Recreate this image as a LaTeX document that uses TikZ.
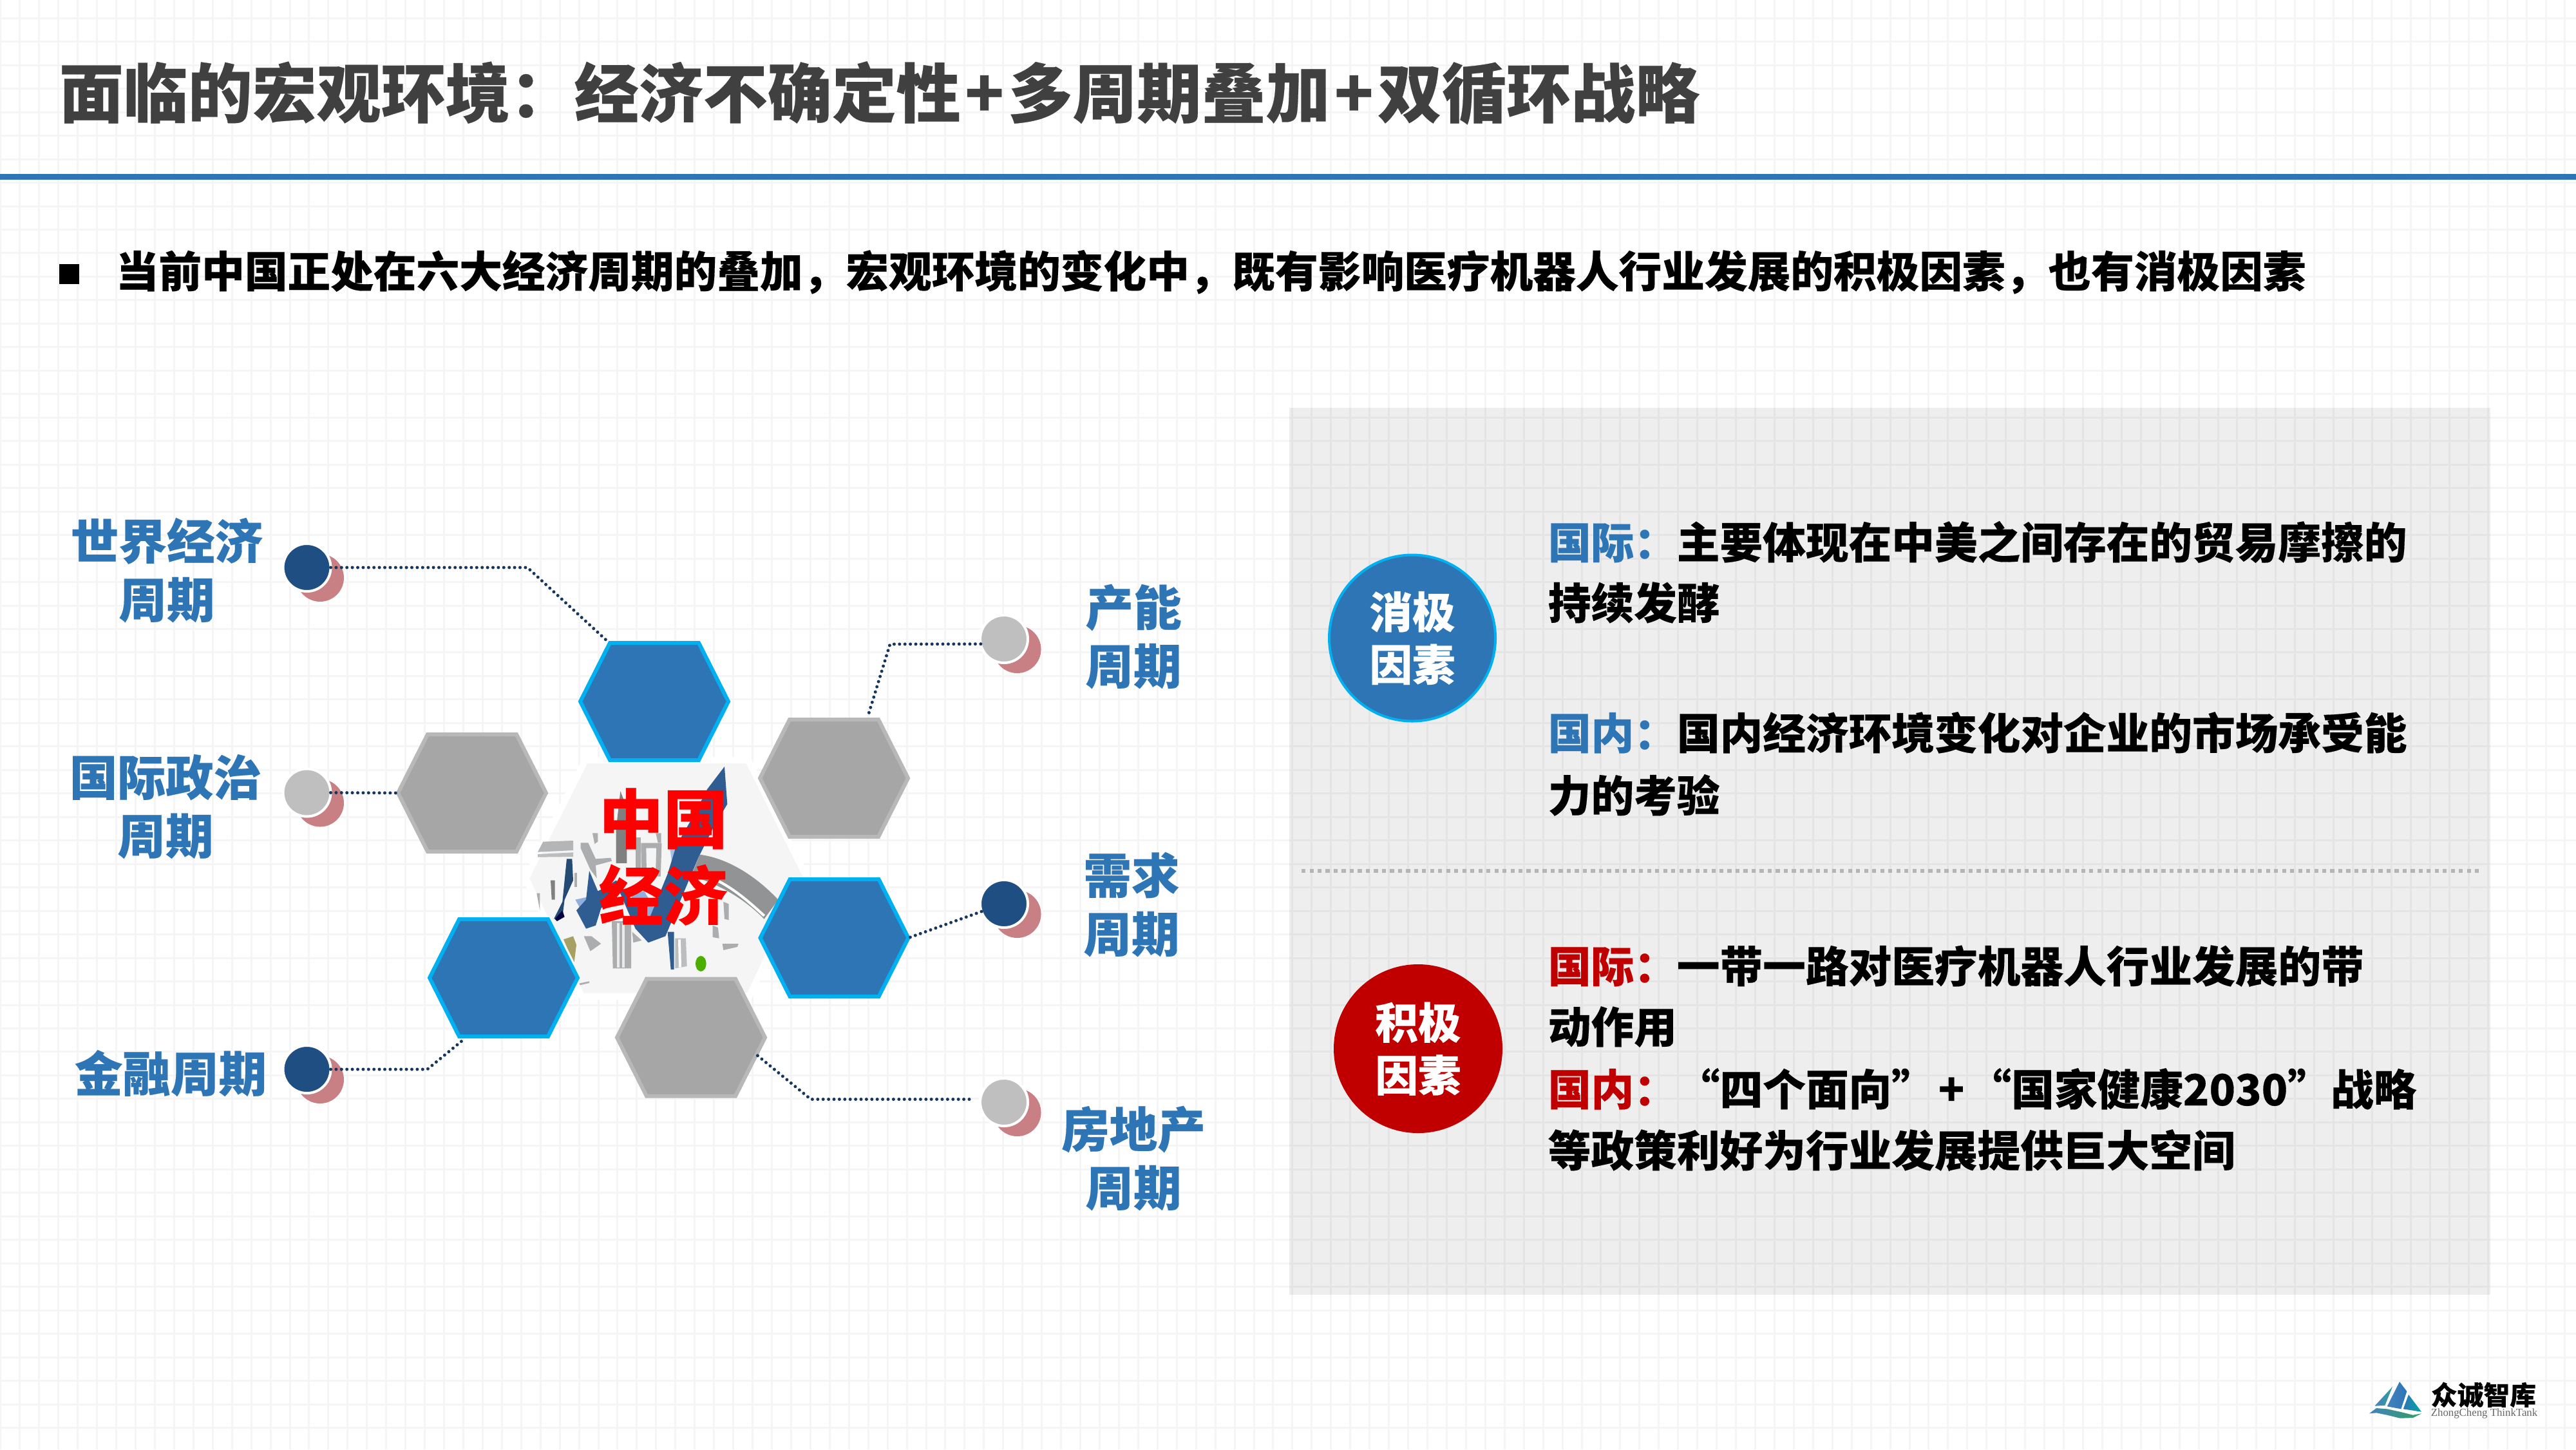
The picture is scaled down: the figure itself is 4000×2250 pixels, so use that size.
\documentclass[tikz,border=0pt]{standalone}
\usepackage{fontspec}
\setmainfont{Noto Sans CJK SC}[BoldFeatures={FakeBold=0.25}]
\newfontfamily\logolatin{Liberation Serif}
\usetikzlibrary{calc}
\definecolor{mainblue}{HTML}{2E75B6}
\definecolor{cyanedge}{HTML}{00B0F0}
\definecolor{hexgray}{HTML}{A6A6A6}
\definecolor{hexedge}{HTML}{B8B8B8}
\definecolor{navyline}{HTML}{17365D}
\definecolor{shadowpink}{HTML}{C98084}
\definecolor{darkdot}{HTML}{1F4E82}
\definecolor{lightdot}{HTML}{BFBFBF}
\definecolor{deepred}{HTML}{C00000}
\definecolor{arrowblue}{HTML}{2F5D91}
\definecolor{paleblue}{HTML}{8FB0DC}
\definecolor{towergray}{HTML}{ABADAF}
\newcommand{\fsz}[2]{\fontsize{#1pt}{#2pt}\selectfont\bfseries}
\newcommand{\hexat}[4]{%
  \node[hexcell] (#1) at (#2,#3) {};
  \draw[#4] (#1.west) -- ($(#1.north west)+(46,0)$) -- ($(#1.north east)+(-46,0)$) -- (#1.east) -- ($(#1.south east)+(-46,0)$) -- ($(#1.south west)+(46,0)$) -- cycle;
}
\tikzset{
  gridline/.style={draw=black!4,line width=0.75pt},
  hexcell/.style={rectangle,minimum width=57.5pt,minimum height=45.5pt,inner sep=0pt,outer sep=0pt},
  hexblue/.style={fill=mainblue,draw=cyanedge,line width=1.5pt,line join=miter},
  hexgrey/.style={fill=hexgray,draw=hexedge,line width=1.5pt,line join=miter},
  dotcore/.style={circle,minimum size=18.5pt,inner sep=0pt,outer sep=0pt,draw=white,line width=1pt},
  dotshadow/.style={circle,minimum size=18.5pt,inner sep=0pt,fill=shadowpink},
  conn/.style={draw=navyline,line width=1.25pt,line cap=round,dash pattern=on 0pt off 2.1pt},
  toplabel/.style={font=\fsz{18.65}{22.7},text=mainblue,align=center,inner sep=0pt},
  para/.style={anchor=base west,inner sep=0pt,font=\fsz{16.67}{20},text=black},
  badge/.style={circle,minimum size=64.5pt,inner sep=0pt,outer sep=0pt,line width=1pt,text=white,align=center,font=\fsz{16.67}{20.4}},
  tw/.style={fill=towergray,draw=none},
}
\begin{document}
\begin{tikzpicture}[x=0.25pt,y=-0.25pt]
\useasboundingbox (0,0) rectangle (4000,2250);
\fill[white] (0,0) rectangle (4000,2250);
% background grid
\foreach \k in {0,...,133} \draw[gridline] ({0.9+29.94*\k},0) -- ({0.9+29.94*\k},2250);
\foreach \k in {1,...,62} \draw[gridline] (0,{-8.2+36.47*\k}) -- (4000,{-8.2+36.47*\k});
% header
\node[anchor=base west,inner sep=0pt,font=\fsz{25}{30},text=black!75] (title) at (91,182) {面临的宏观环境：经济不确定性\hspace{1.6pt}+\hspace{1.6pt}多周期叠加\hspace{1.6pt}+\hspace{1.6pt}双循环战略};
\fill[mainblue] (0,270) rectangle (4000,279);
\node[inner sep=0pt,minimum size=7.75pt,fill=black] (bullet) at (107.5,425.5) {};
\node[para] (lead) at (179,446) {当前中国正处在六大经济周期的叠加，宏观环境的变化中，既有影响医疗机器人行业发展的积极因素，也有消极因素};
% right panel
\fill[black,opacity=0.065] (2002,633) rectangle (3867,2010);
\draw[draw=lightdot!95!black,line width=1.5pt,dash pattern=on 1.56pt off 1.56pt] (2021,1352) -- (3852,1352);
% central picture
\begin{scope}[shift={(810,1170)},x=0.08333pt,y=-0.08333pt]
\path[fill=black!4,draw=white,line width=2.5pt,line join=round] (297,30) -- (1055,30) -- (1325,570) -- (1060,1130) -- (280,1130) -- (20,580) -- cycle;
% grey arc
\fill[towergray!85!black] (830,470) .. controls (980,490) and (1110,590) .. (1195,680) -- (1130,770) .. controls (1040,680) and (930,610) .. (790,570) -- cycle;
\draw[white,line width=1pt] (910,590) .. controls (990,630) and (1060,690) .. (1130,755);
% grey buildings
\fill[towergray!90!white] (100,410) -- (240,405) -- (240,450) -- (75,458) -- cycle;
\fill[towergray!80!white] (75,468) -- (240,460) -- (240,480) -- (75,482) -- cycle;
\fill[tw] (275,415) -- (310,415) -- (345,490) -- (415,485) -- (420,500) -- (345,520) -- (350,580) -- (320,540) -- (275,440) -- cycle;
\fill[black!50] (460,175) -- (490,250) -- (490,510) -- (440,510) -- (440,350) -- cycle;
\fill[tw] (530,390) -- (555,390) -- (555,540) -- (530,540) -- cycle;
\draw[towergray,line width=2pt] (568,428) -- (640,428) -- (636,560) -- (570,560) -- cycle;
\fill[tw] (420,780) -- (510,780) -- (510,1000) -- (425,1000) -- cycle;
\draw[white!92!black,line width=1pt] (450,790) -- (450,995) (475,790) -- (475,995);
\fill[towergray!80!white] (715,860) -- (765,860) -- (770,990) -- (715,1000) -- cycle;
\draw[white,line width=1pt] (735,865) -- (738,995);
\fill[tw] (515,830) -- (560,870) -- (520,880) -- cycle;
\fill[tw] (290,850) -- (325,850) -- (370,885) -- (320,920) -- cycle;
\fill[tw] (935,885) -- (1010,885) -- (1005,900) -- (940,915) -- cycle;
\fill[tw] (890,800) -- (915,810) -- (920,860) -- (890,855) -- cycle;
\fill[tw] (940,690) -- (965,700) -- (965,775) -- (945,770) -- cycle;
\fill[black!50] (135,590) -- (155,590) -- (155,680) -- (140,680) -- cycle;
\fill[tw] (70,650) -- (85,650) -- (85,730) -- cycle;
\fill[tw] (245,555) -- (258,555) -- (258,620) -- (245,620) -- cycle;
\fill[tw] (268,1070) -- (315,1060) -- (315,1068) -- (272,1078) -- cycle;
\fill[tw] (330,370) -- (355,370) -- (355,410) -- (340,420) -- cycle;
\fill[tw] (625,370) -- (650,370) -- (650,415) -- (635,415) -- cycle;
% light facets
\fill[paleblue] (250,680) -- (340,660) -- (300,770) -- cycle;
\fill[paleblue] (510,660) -- (570,640) -- (620,720) -- (585,825) -- (540,750) -- cycle;
\fill[paleblue!80!white] (690,430) -- (750,430) -- (700,510) -- cycle;
% blue rising arrow
\fill[arrowblue] (945,60) -- (958,235) -- (890,350) -- (825,480) -- (670,850) -- (590,880) -- (530,815) -- (455,640) -- (370,720) -- (345,800) -- (300,815) -- (255,730) -- (300,680) -- (315,545) -- (355,640) -- (395,620) -- (440,590) -- (530,700) -- (590,780) -- (680,560) -- (720,430) -- (800,290) -- (865,165) -- cycle;
\fill[arrowblue] (680,830) -- (710,830) -- (710,1005) -- (695,1005) -- cycle;
\fill[arrowblue!80!black] (210,490) -- (235,490) -- (240,590) -- (200,680) -- (190,760) -- (150,770) -- (190,690) -- cycle;
\fill[black!75!blue] (155,770) -- (190,730) -- (200,760) -- (165,780) -- cycle;
\fill[olive!50!gray!80!white] (195,865) -- (240,850) -- (255,890) -- (245,970) -- (215,910) -- cycle;
\fill[green!55!black!70!yellow] (835,978) ellipse [x radius=25,y radius=36];
\end{scope}
% hexagons
\hexat{h1}{1016}{1089}{hexblue}
\hexat{h2}{733}{1231}{hexgrey}
\hexat{h3}{1295}{1208}{hexgrey}
\hexat{h4}{1295.5}{1456}{hexblue}
\hexat{h5}{782}{1518}{hexblue}
\hexat{h6}{1073}{1610.6}{hexgrey}
% centre words
\node[font=\fsz{25}{29.75},text=red,align=center,inner sep=0pt] (core) at (1030,1330) {中国\\经济};
% dots with shadows
\node[dotshadow] (s1) at (497,897) {};
\node[dotshadow] (s2) at (497,1246.5) {};
\node[dotshadow] (s3) at (1579.5,1008) {};
\node[dotshadow] (s4) at (1579.5,1419) {};
\node[dotshadow] (s5) at (497,1676) {};
\node[dotshadow] (s6) at (1579.5,1727) {};
\node[dotcore,fill=darkdot] (c1) at (476.5,881) {};
\node[dotcore,fill=lightdot] (c2) at (476.5,1230.5) {};
\node[dotcore,fill=lightdot] (c3) at (1559,992) {};
\node[dotcore,fill=darkdot] (c4) at (1559,1403) {};
\node[dotcore,fill=darkdot] (c5) at (476.5,1660) {};
\node[dotcore,fill=lightdot] (c6) at (1559,1711) {};
% connectors
\coordinate (b1) at (819,881);
\coordinate (b3) at (1382,1000);
\coordinate (b5) at (663.5,1660);
\coordinate (b6) at (1259,1706.5);
\coordinate (e6) at (1505,1706.5);
\draw[conn] (c1.east) -- (b1) -- ($(h1.north)+(-70,0)$);
\draw[conn] (c2.east) -- (h2.west);
\draw[conn] (c3.192) -- (b3) -- ($(h3.north)+(52,-3)$);
\draw[conn] (c4.199) -- (h4.east);
\draw[conn] (c5.east) -- (b5) -- ($(h5.south)+(-60,3)$);
\draw[conn] (e6) -- (b6) -- ($(h6.east)+(-13,27)$);
% cycle labels
\node[toplabel] (l1) at (259,885) {世界经济\\周期};
\node[toplabel] (l2) at (257,1252) {国际政治\\周期};
\node[toplabel] (l3) at (265,1666) {金融周期};
\node[toplabel] (l4) at (1760,988) {产能\\周期};
\node[toplabel] (l5) at (1757,1404) {需求\\周期};
\node[toplabel] (l6) at (1760,1798) {房地产\\周期};
% badges
\node[badge,fill=mainblue,draw=cyanedge] (neg) at (2193,990.5) {消极\\因素};
\node[badge,fill=deepred,draw=deepred] (pos) at (2202,1628) {积极\\因素};
% panel text
\node[para] (t1) at (2403,867) {\textcolor{mainblue}{国际：}主要体现在中美之间存在的贸易摩擦的};
\node[para] (t2) at (2403,961) {持续发酵};
\node[para] (t3) at (2403,1163) {\textcolor{mainblue}{国内：}国内经济环境变化对企业的市场承受能};
\node[para] (t4) at (2403,1260) {力的考验};
\node[para] (t5) at (2403,1525) {\textcolor{deepred}{国际：}一带一路对医疗机器人行业发展的带};
\node[para] (t6) at (2403,1619) {动作用};
\node[para] (t7) at (2403,1716) {\textcolor{deepred}{国内：}“四个面向”\hspace{1.5pt}+\hspace{1.5pt}“国家健康2030”战略};
\node[para] (t8) at (2403,1811) {等政策利好为行业发展提供巨大空间};
% logo
\shade[left color=mainblue!90!white,right color=teal!60!cyan!60!gray] (3715,2152.7) -- (3687.3,2182.7) -- (3703.3,2181.7) -- cycle;
\shade[left color=mainblue!90!white,right color=mainblue] (3726,2145) -- (3737.3,2160) -- (3728.3,2187.3) -- (3706.7,2183.3) -- cycle;
\shade[left color=mainblue,right color=teal!70!cyan] (3740,2165) -- (3760,2191.7) -- (3731.7,2187.3) -- cycle;
\shade[left color=mainblue!90!white,right color=teal!60!green!60!gray] (3679,2194.3) -- (3690,2186) -- (3706.7,2187.3) -- (3726.7,2191.7) -- (3746.7,2196.7) -- (3760,2194.3) -- (3746.7,2201) -- (3726.7,2201.7) -- (3706.7,2196.7) -- (3690,2193.3) -- cycle;
\node[anchor=base west,inner sep=0pt,font=\fsz{10.2}{12},text=black] (logoa) at (3774,2181) {众诚智库};
\node[anchor=base west,inner sep=0pt,font=\logolatin\fontsize{4.2}{5}\selectfont,text=black!60] (logob) at (3774,2198) {ZhongCheng ThinkTank};
\end{tikzpicture}
\end{document}
